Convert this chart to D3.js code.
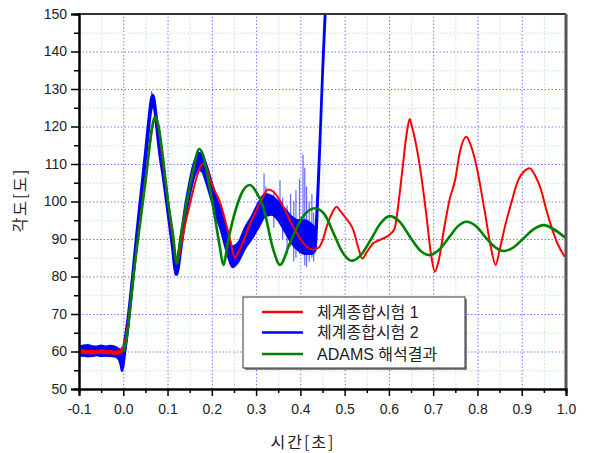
<!DOCTYPE html>
<html>
<head>
<meta charset="utf-8">
<script src="https://cdn.jsdelivr.net/npm/d3@7"></script>
<style>
	body { margin: 0; background: #fff; }
	svg { display: block; font-family: "Liberation Sans", Arial, "Noto Sans CJK KR", sans-serif; }
	.grid--minor line { stroke: #b8f0b8; stroke-dasharray: 1.5,2; }
	.grid--major line { stroke: #7878ff; stroke-dasharray: 1.5,2; }
	.grid .domain { display: none; }
	.axis .domain { stroke: #000; stroke-width: 2; }
	.axis line { stroke: #000; stroke-width: 1.5; }
	.axis text { font-size: 14px; fill: #222; }
	.title { font-family: "Noto Sans CJK KR"; font-size: 16px; fill: #222; letter-spacing: 2px; }
</style>
</head>
<body>
<svg id="chart" width="591" height="453"></svg>
<script>
// ticks
const xTicks = [-0.1, 0.0, 0.1, 0.2, 0.3, 0.4, 0.5, 0.6, 0.7, 0.8, 0.9, 1.0];
const xTickLabels = ["-0.1", "0.0", "0.1", "0.2", "0.3", "0.4", "0.5", "0.6", "0.7", "0.8", "0.9", "1.0"];
const yTicks = [50, 60, 70, 80, 90, 100, 110, 120, 130, 140, 150];
const yTickLabels = ["50", "60", "70", "80", "90", "100", "110", "120", "130", "140", "150"];

const seriesNames = ["체계종합시험 1", "체계종합시험 2", "ADAMS 해석결과"];

// 체계종합시험 1 (red)
const redTime = [-0.1, -0.07, -0.05, -0.03, -0.015, -0.006, 0.0, 0.005, 0.01, 0.02, 0.03, 0.04, 0.05, 0.06, 0.068,
	0.073, 0.079, 0.09, 0.1, 0.11, 0.122, 0.13, 0.14, 0.15, 0.16, 0.17, 0.178, 0.185, 0.196, 0.208, 0.218,
	0.23, 0.242, 0.252, 0.26, 0.27, 0.286, 0.3, 0.315, 0.327, 0.34, 0.355, 0.37, 0.385, 0.4, 0.414, 0.428,
	0.44, 0.45, 0.46, 0.47, 0.482, 0.49, 0.5, 0.51, 0.52, 0.53, 0.54, 0.55, 0.564, 0.58, 0.6, 0.613, 0.62,
	0.63, 0.64, 0.647, 0.652, 0.66, 0.67, 0.685, 0.695, 0.704, 0.712, 0.725, 0.737, 0.75, 0.76, 0.775, 0.785,
	0.798, 0.816, 0.83, 0.841, 0.85, 0.862, 0.875, 0.892, 0.905, 0.918, 0.93, 0.944, 0.955, 0.967, 0.98, 0.997];
const redValue = [60, 59.8, 60, 59.8, 59.7, 60, 61, 63.5, 67, 77, 87, 97, 106, 115, 121,
	121.8, 120, 110, 101, 92, 83.5, 88, 94, 99, 104, 108, 110, 109.8, 106, 102.5, 100,
	95, 89.5, 85, 86.5, 89, 94, 97.5, 101, 103.2, 102.5, 100, 96.5, 93, 90, 88, 87.2,
	87.6, 89.5, 93.5, 96.5, 98.6, 97.5, 96, 94.5, 92.3, 88, 84.8, 86.5, 88.8, 89.8, 91, 92.8, 98,
	108, 118, 122, 120, 116, 109.3, 96, 86, 81.3, 84, 93, 100.5, 106, 113, 117.3, 115,
	109.3, 97.7, 88, 83.1, 87, 93.3, 99, 105.7, 108, 108.9, 107, 103, 98, 93.3, 89, 85.3];

// 체계종합시험 2 (blue): noisy band, low / high edges
const blueTime = [-0.1, -0.09, -0.08, -0.07, -0.06, -0.05, -0.04, -0.03, -0.02, -0.012, -0.006, -0.003, 0.0, 0.004,
	0.01, 0.02, 0.03, 0.04, 0.05, 0.057, 0.062, 0.066, 0.07, 0.074, 0.08, 0.09, 0.1, 0.11, 0.118, 0.122, 0.13, 0.14,
	0.15, 0.16, 0.17, 0.178, 0.19, 0.2, 0.21, 0.22, 0.235, 0.247, 0.26, 0.275, 0.29, 0.305, 0.32, 0.335, 0.35,
	0.365, 0.38, 0.395, 0.41, 0.425, 0.434, 0.438, 0.444, 0.45, 0.453, 0.456, 0.46];
const blueLow = [58.8, 58.9, 58.7, 58.8, 59, 58.8, 58.9, 58.8, 58.7, 58.2, 56.5, 54.8, 56, 59.5,
	65, 76, 88, 99, 110, 118, 123.5, 125.5, 124.5, 120.5, 114, 106, 97, 88, 80.5, 80.5, 86.5, 95,
	101.5, 106.5, 108.5, 108, 104, 100, 96, 92.5, 86, 82.5, 84, 87.5, 90, 93, 96, 96.5, 95,
	92, 89, 87, 86, 86, 87, 95, 113, 132, 140, 148, 156];
const blueHigh = [61.2, 61.6, 61.7, 61.4, 61.3, 61.6, 61.3, 61.5, 61.3, 60.8, 60, 59, 61, 64,
	69, 80, 92, 103, 114, 122, 127, 128.5, 127.5, 124, 118, 110, 101, 92, 84, 85, 90.5, 99,
	105.5, 110.5, 113, 112.5, 109, 105, 101, 98, 92, 88, 89, 93, 96, 99.5, 102, 101.5, 100,
	98, 96, 95, 95, 94, 93, 101, 117, 136, 144, 152, 160];
// spikes of the blue trace
const spikeTime = [0.064, 0.318, 0.322, 0.34, 0.354, 0.36, 0.37, 0.378, 0.385, 0.39, 0.398, 0.406, 0.41, 0.414, 0.42, 0.426, 0.43];
const spikeLow = [125, 98, 96, 93, 96, 90, 86, 88, 84, 85, 86, 88, 83, 82.5, 84, 85, 84];
const spikeHigh = [129.5, 107.5, 104, 103, 105.7, 101, 99, 102, 100, 103, 106, 112.5, 109, 104, 100, 102, 97];

// ADAMS 해석결과 (green)
const greenTime = [0.0, 0.004, 0.008, 0.014, 0.02, 0.03, 0.04, 0.053, 0.064, 0.0716, 0.079, 0.0866, 0.1016, 0.113,
	0.1205, 0.13, 0.143, 0.158, 0.1716, 0.18, 0.19, 0.203, 0.218, 0.226, 0.237, 0.256, 0.27, 0.286, 0.3, 0.316,
	0.339, 0.354, 0.376, 0.406, 0.433, 0.455, 0.475, 0.495, 0.5155, 0.535, 0.56, 0.58, 0.602, 0.625, 0.648, 0.67,
	0.691, 0.712, 0.735, 0.755, 0.775, 0.797, 0.818, 0.84, 0.86, 0.882, 0.905, 0.928, 0.95, 0.972, 1.0];
const greenValue = [60, 61.5, 64, 70, 77, 87, 96, 108, 119, 122.5, 120.5, 114.6, 99.5, 90.6,
	83.5, 91, 99.5, 108.4, 114, 112.5, 107, 98.6, 88, 83.1, 89.7, 98.6, 102.8, 104.4, 102.6, 98.6,
	87.1, 83.1, 88.8, 96, 98.2, 96.5, 91.5, 86.5, 84.2, 85.5, 90, 94, 96.1, 94.5, 90.5, 87,
	85.7, 87, 90.3, 93.3, 94.6, 93.4, 90.5, 87.8, 86.8, 87.8, 90.3, 92.7, 93.7, 92.6, 90.2];

const colors = ["#ff0000", "#0000ff", "#008000"];

const dimensions = {
	width: 591,
	height: 453,
	margin: { top: 14, right: 25, bottom: 64, left: 79 }
};
dimensions.inner = {
	width: dimensions.width - dimensions.margin.left - dimensions.margin.right,
	height: dimensions.height - dimensions.margin.top - dimensions.margin.bottom
};

const x = d3.scaleLinear().domain([-0.1, 1.0]).range([0, dimensions.inner.width]);
const y = d3.scaleLinear().domain([50, 150]).range([dimensions.inner.height, 0]);

const svg = d3.select("#chart")
	.append("g")
	.attr("transform", "translate(" + dimensions.margin.left + "," + dimensions.margin.top + ")");

svg.append("clipPath")
	.attr("id", "plot-clip")
	.append("rect")
	.attr("width", dimensions.inner.width)
	.attr("height", dimensions.inner.height);

// grids, minor then major
const xMinor = d3.range(0, 22).map(i => -0.05 + i * 0.1).filter(d => d < 1.0);
const yMinor = d3.range(0, 10).map(i => 55 + i * 10);

svg.append("g")
	.attr("class", "grid grid--minor")
	.attr("transform", "translate(0," + dimensions.inner.height + ")")
	.call(d3.axisBottom(x).tickValues(xMinor).tickSize(-dimensions.inner.height).tickFormat(""));
svg.append("g")
	.attr("class", "grid grid--minor")
	.call(d3.axisLeft(y).tickValues(yMinor).tickSize(-dimensions.inner.width).tickFormat(""));
svg.append("g")
	.attr("class", "grid grid--major")
	.attr("transform", "translate(0," + dimensions.inner.height + ")")
	.call(d3.axisBottom(x).tickValues(xTicks.slice(1, -1)).tickSize(-dimensions.inner.height).tickFormat(""));
svg.append("g")
	.attr("class", "grid grid--major")
	.call(d3.axisLeft(y).tickValues(yTicks.slice(1, -1)).tickSize(-dimensions.inner.width).tickFormat(""));

const plot = svg.append("g").attr("clip-path", "url(#plot-clip)");

// blue band
const blueData = blueTime.map((t, i) => ({ t: t, lo: blueLow[i], hi: blueHigh[i] }));
plot.append("path")
	.datum(blueData)
	.attr("fill", colors[1])
	.attr("stroke", colors[1])
	.attr("stroke-width", 2.2)
	.attr("stroke-linejoin", "round")
	.attr("d", d3.area()
		.curve(d3.curveMonotoneX)
		.x(d => x(d.t))
		.y0(d => y(d.lo))
		.y1(d => y(d.hi)));

plot.append("g")
	.selectAll("line")
	.data(spikeTime.map((t, i) => ({ t: t, lo: spikeLow[i], hi: spikeHigh[i] })))
	.join("line")
	.attr("x1", d => x(d.t))
	.attr("x2", d => x(d.t))
	.attr("y1", d => y(d.lo))
	.attr("y2", d => y(d.hi))
	.attr("stroke", colors[1])
	.attr("stroke-opacity", 0.6)
	.attr("stroke-width", 1.2);

// red
const redData = redTime.map((t, i) => ({ t: t, v: redValue[i] }));
const line = d3.line()
	.curve(d3.curveMonotoneX)
	.x(d => x(d.t))
	.y(d => y(d.v));

plot.append("path")
	.datum(redData.filter(d => d.t <= 0))
	.attr("fill", "none")
	.attr("stroke", colors[0])
	.attr("stroke-width", 4.5)
	.attr("d", line);
plot.append("path")
	.datum(redData)
	.attr("fill", "none")
	.attr("stroke", colors[0])
	.attr("stroke-width", 2)
	.attr("stroke-linejoin", "round")
	.attr("d", line);

// green
plot.append("path")
	.datum(greenTime.map((t, i) => ({ t: t, v: greenValue[i] })))
	.attr("fill", "none")
	.attr("stroke", colors[2])
	.attr("stroke-width", 2.6)
	.attr("stroke-linejoin", "round")
	.attr("d", line);

// frame top / right
svg.append("line")
	.attr("x1", 0).attr("x2", dimensions.inner.width)
	.attr("y1", 0).attr("y2", 0)
	.attr("stroke", "#333").attr("stroke-width", 2);
svg.append("line")
	.attr("x1", dimensions.inner.width).attr("x2", dimensions.inner.width)
	.attr("y1", 0).attr("y2", dimensions.inner.height)
	.attr("stroke", "#555").attr("stroke-width", 3);

// axes
svg.append("g")
	.attr("class", "axis")
	.attr("transform", "translate(0," + dimensions.inner.height + ")")
	.call(d3.axisBottom(x).tickValues(xMinor).tickSize(4).tickFormat(""));
svg.append("g")
	.attr("class", "axis")
	.attr("transform", "translate(0," + dimensions.inner.height + ")")
	.call(d3.axisBottom(x).tickValues(xTicks).tickSize(7).tickPadding(8).tickFormat((d, i) => xTickLabels[i]));
svg.append("g")
	.attr("class", "axis")
	.call(d3.axisLeft(y).tickValues(yMinor).tickSize(5).tickFormat(""));
svg.append("g")
	.attr("class", "axis")
	.call(d3.axisLeft(y).tickValues(yTicks).tickSize(8).tickPadding(4).tickFormat((d, i) => yTickLabels[i]));

// axis titles
svg.append("text")
	.attr("class", "title")
	.attr("x", 224)
	.attr("y", 434)
	.attr("text-anchor", "middle")
	.text("시간[초]");
svg.append("text")
	.attr("class", "title")
	.attr("transform", "translate(-53,186) rotate(-90)")
	.attr("text-anchor", "middle")
	.text("각도[도]");

// legend
const legend = svg.append("g").attr("transform", "translate(" + (243 - 79) + "," + (297 - 14) + ")");
legend.append("rect")
	.attr("x", 2).attr("y", 2)
	.attr("width", 222).attr("height", 71)
	.attr("fill", "#888");
legend.append("rect")
	.attr("width", 222).attr("height", 71)
	.attr("fill", "#fff")
	.attr("stroke", "#333")
	.attr("stroke-width", 1);
const rows = legend.selectAll("g.row")
	.data(seriesNames)
	.join("g")
	.attr("class", "row")
	.attr("transform", (d, i) => "translate(0," + [15, 35.5, 57][i] + ")");
rows.append("line")
	.attr("x1", 19).attr("x2", 60)
	.attr("stroke", (d, i) => colors[i])
	.attr("stroke-width", 2.5);
rows.append("text")
	.attr("x", 74)
	.attr("dy", "0.36em")
	.attr("font-size", 16)
	.attr("fill", "#222")
	.text(d => d);
</script>
</body>
</html>
